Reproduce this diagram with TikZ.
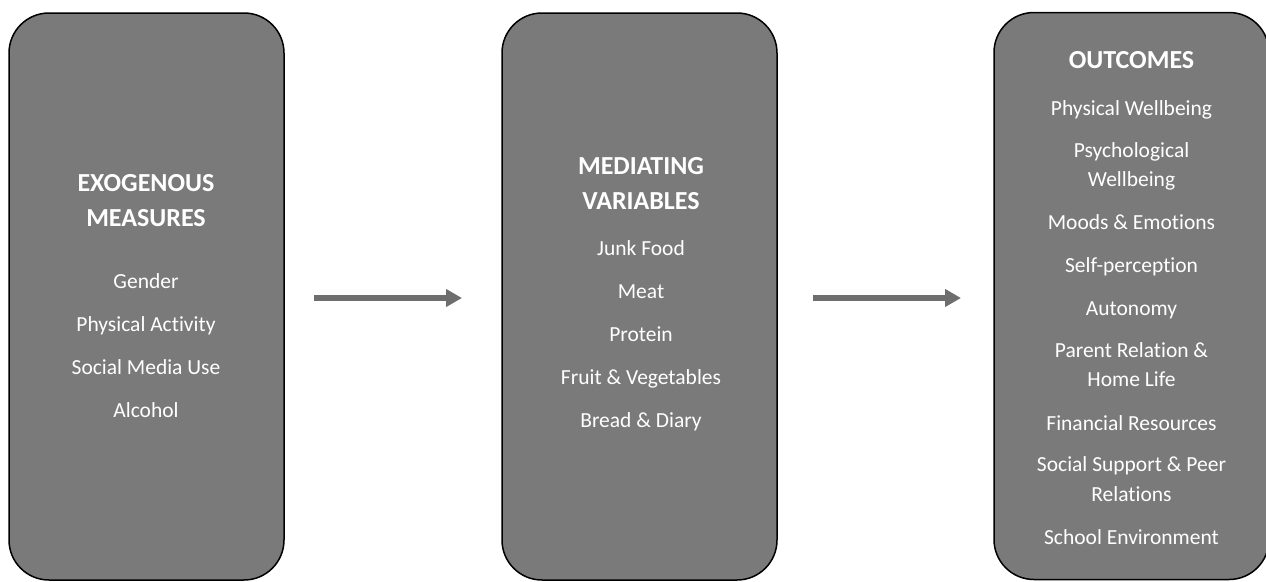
\documentclass[tikz,border=0pt]{standalone}
\usepackage{fontspec}
\setmainfont[Ligatures=NoCommon]{Carlito}
\usetikzlibrary{arrows.meta}
\definecolor{boxgray}{HTML}{7A7A7A}
\definecolor{arrowgray}{HTML}{6E6E6E}
\begin{document}
\begin{tikzpicture}[x=1pt,y=-1pt,
 box/.style={draw=black, line width=1.5pt, fill=boxgray, rounded corners=40pt, minimum width=275pt, minimum height=567pt, inner sep=0pt},
 title/.style={anchor=base, text=white, font=\fontsize{26}{35}\selectfont\bfseries, inner sep=0pt, align=center},
 item/.style={anchor=base, text=white, font=\fontsize{21.5}{29.5}\selectfont, inner sep=0pt, align=center},
 flow/.style={draw=arrowgray, line width=6pt, -{Triangle[length=16pt,width=17pt]}}]
\clip (0,0) rectangle (1266,581);
\useasboundingbox (0,0) rectangle (1266,581);
% boxes
\node[box] (b1) at (146.5,296.5) {};
\node[box] (b2) at (639.5,296.5) {};
\node[box] (b3) at (1131.5,296) {};
% box 1 (multi-line nodes: base = last line's baseline)
\node[title] (t1) at (146,226) {EXOGENOUS\\MEASURES};
\node[item] (e1) at (146,288) {Gender};
\node[item] (e2) at (146,331.5) {Physical Activity};
\node[item] (e3) at (146,374.5) {Social Media Use};
\node[item] (e4) at (146,417) {Alcohol};
% box 2
\node[title] (t2) at (641,209) {MEDIATING\\VARIABLES};
\node[item] (m1) at (641,255) {Junk Food};
\node[item] (m2) at (641,298) {Meat};
\node[item] (m3) at (641,341) {Protein};
\node[item] (m4) at (641,384) {Fruit \& Vegetables};
\node[item] (m5) at (641,427) {Bread \& Diary};
% box 3
\node[title] (t3) at (1131.5,68) {OUTCOMES};
\node[item] (o1) at (1131.5,115) {Physical Wellbeing};
\node[item] (o2) at (1131.5,186.5) {Psychological\\Wellbeing};
\node[item] (o3) at (1131.5,229) {Moods \& Emotions};
\node[item] (o4) at (1131.5,272.7) {Self-perception};
\node[item] (o5) at (1131.5,315) {Autonomy};
\node[item] (o6) at (1131.5,386.7) {Parent Relation \&\\Home Life};
\node[item] (o7) at (1131.5,430) {Financial Resources};
\node[item] (o8) at (1131.5,501) {Social Support \& Peer\\Relations};
\node[item] (o9) at (1131.5,544) {School Environment};
% arrows
\coordinate (a1s) at (314,298);
\coordinate (a1e) at (462,298);
\coordinate (a2s) at (813,298);
\coordinate (a2e) at (961,298);
\draw[flow] (a1s) -- (a1e);
\draw[flow] (a2s) -- (a2e);
\end{tikzpicture}
\end{document}
